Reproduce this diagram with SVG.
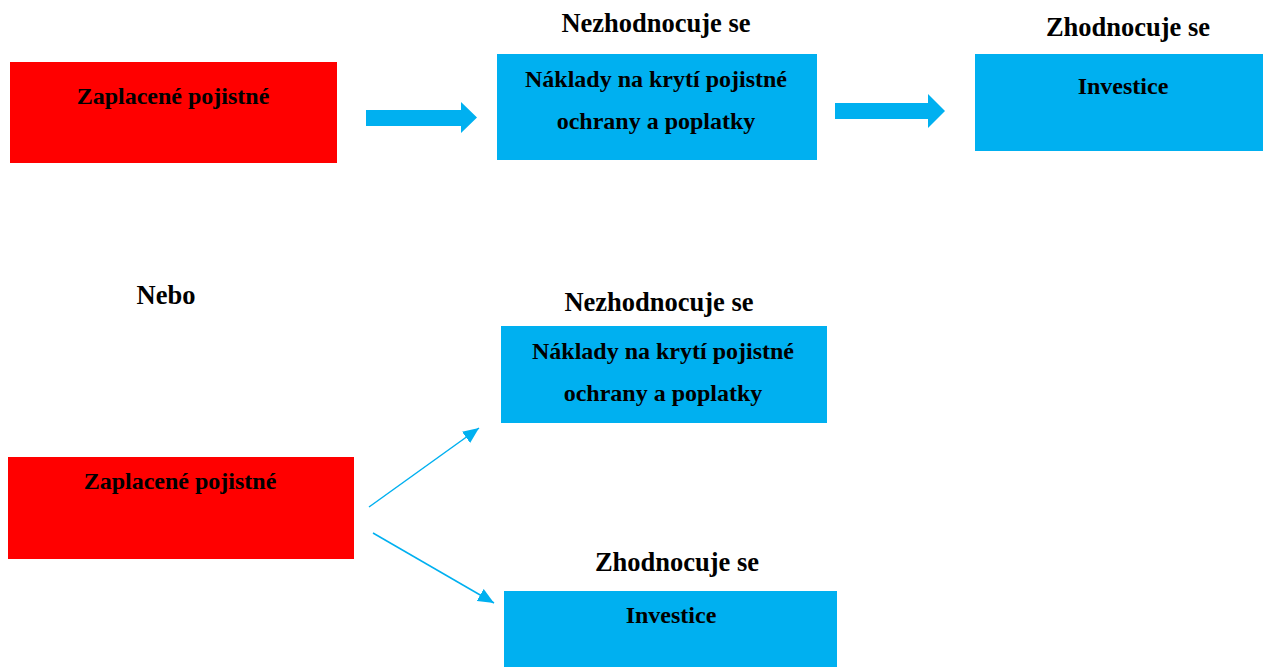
<svg xmlns="http://www.w3.org/2000/svg" width="1263" height="667" viewBox="0 0 1263 667">
<style>
text{font-family:"Liberation Serif","Times New Roman",serif;font-weight:bold;font-size:24px;fill:#000;text-anchor:middle}
text.title{font-size:26.5px}
.red{fill:#FF0000}
.blue{fill:#00B0F0}
.thin{stroke:#00B0F0;stroke-width:1.5;fill:none}
</style>
<defs>
<marker id="tri" viewBox="0 0 16 14" refX="16" refY="7" markerWidth="16" markerHeight="14" markerUnits="userSpaceOnUse" orient="auto">
<path d="M0,0 L16,7 L0,14 z" fill="#00B0F0"/>
</marker>
</defs>
<rect width="1263" height="667" fill="#fff"/>
<g id="connectors">
<path class="blue" d="M366,110 H461 V102 L477,117.5 L461,133 V126 H366 z"/>
<path class="blue" d="M835,103 H928 V94 L945,111 L928,128 V119 H835 z"/>
<line class="thin" x1="369" y1="507" x2="479" y2="428" marker-end="url(#tri)"/>
<line class="thin" x1="373" y1="533" x2="494" y2="603" marker-end="url(#tri)"/>
</g>
<g id="top-paid">
<rect class="red" x="10" y="62" width="327" height="101"/>
<text x="173" y="104">Zaplacené pojistné</text>
</g>
<g id="top-costs">
<text class="title" x="656" y="32">Nezhodnocuje se</text>
<rect class="blue" x="497" y="54" width="320" height="106"/>
<text x="656" y="87">Náklady na krytí pojistné</text>
<text x="656" y="129">ochrany a poplatky</text>
</g>
<g id="top-invest">
<text class="title" x="1128" y="36">Zhodnocuje se</text>
<rect class="blue" x="975" y="54" width="288" height="97"/>
<text x="1123" y="94">Investice</text>
</g>
<g id="nebo">
<text class="title" x="166" y="304">Nebo</text>
</g>
<g id="bottom-paid">
<rect class="red" x="8" y="457" width="346" height="102"/>
<text x="180" y="489">Zaplacené pojistné</text>
</g>
<g id="bottom-costs">
<text class="title" x="659" y="311">Nezhodnocuje se</text>
<rect class="blue" x="501" y="326" width="326" height="97"/>
<text x="663" y="359">Náklady na krytí pojistné</text>
<text x="663" y="401">ochrany a poplatky</text>
</g>
<g id="bottom-invest">
<text class="title" x="677" y="571">Zhodnocuje se</text>
<rect class="blue" x="504" y="591" width="333" height="76"/>
<text x="671" y="623">Investice</text>
</g>
</svg>
